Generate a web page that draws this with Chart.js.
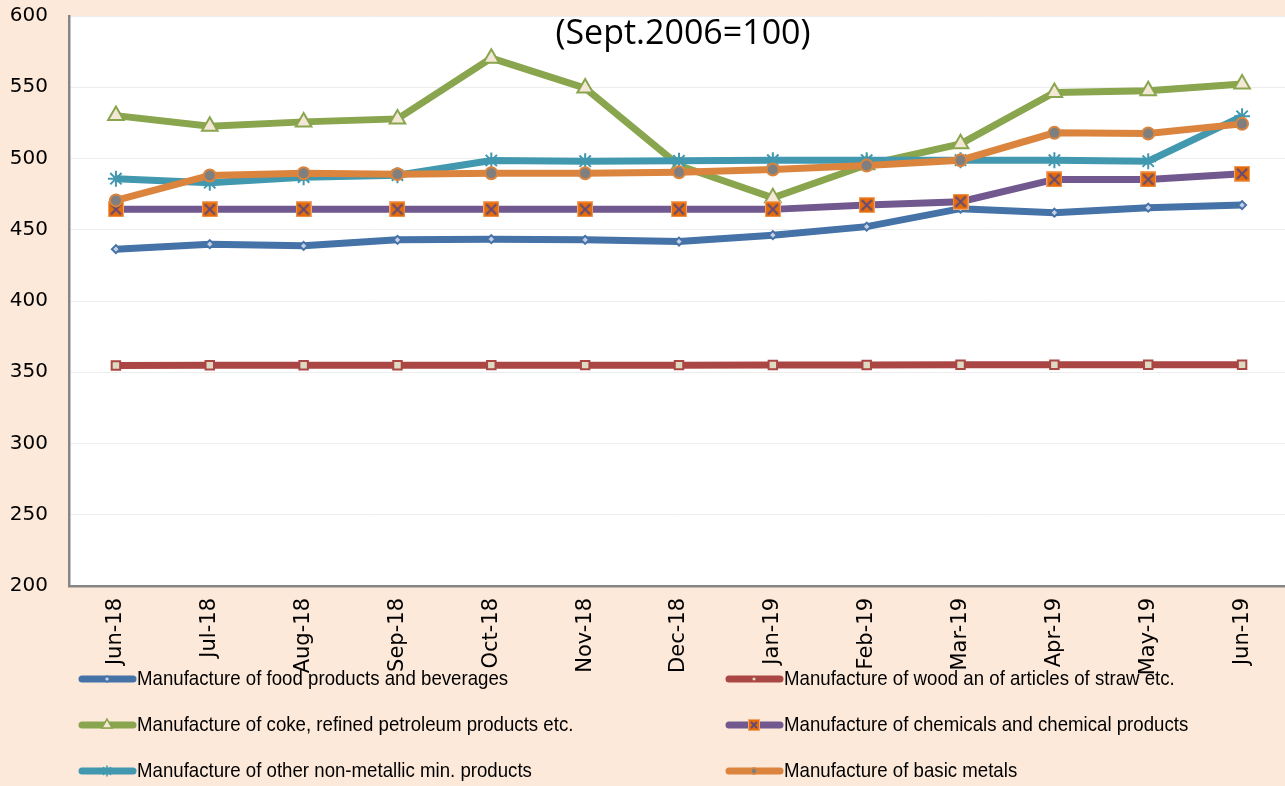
<!DOCTYPE html>
<html>
<head>
<meta charset="utf-8">
<script src="https://cdn.jsdelivr.net/npm/chart.js@4.4.0/dist/chart.umd.min.js"></script>
<style>
  html, body { margin: 0; padding: 0; background: #FDE9D9; overflow: hidden; }
  #wrap { position: relative; width: 1289px; height: 786px; }
</style>
</head>
<body>
<div id="wrap"><canvas id="grafico" width="1289" height="786"></canvas></div>
<script>
const months = ["Jun-18", "Jul-18", "Aug-18", "Sep-18", "Oct-18", "Nov-18", "Dec-18",
  "Jan-19", "Feb-19", "Mar-19", "Apr-19", "May-19", "Jun-19"];

const food = [436.4, 439.9, 438.7, 442.9, 443.4, 442.9, 441.7, 446.2, 452.2, 464.8, 462.0, 465.5, 467.3];
const wood = [354.7, 354.9, 354.9, 354.9, 355.0, 355.0, 355.0, 355.1, 355.1, 355.3, 355.2, 355.2, 355.3];
const coke = [530.1, 522.6, 525.7, 527.8, 570.4, 549.4, 495.1, 472.5, 495.6, 510.3, 546.4, 547.6, 552.2];
const chemicals = [464.3, 464.3, 464.3, 464.3, 464.3, 464.3, 464.3, 464.3, 467.3, 469.7, 485.3, 485.3, 489.3];
const nonMetallic = [485.8, 483.0, 486.9, 488.3, 498.6, 498.1, 498.4, 498.8, 498.8, 498.8, 498.8, 498.1, 529.6];
const basicMetals = [470.6, 488.1, 489.7, 489.0, 489.7, 489.7, 490.4, 492.3, 495.1, 498.8, 518.0, 517.5, 524.3];

const seriesNames = [
  "Manufacture of food products and beverages",
  "Manufacture of wood an of articles of straw etc.",
  "Manufacture of coke, refined petroleum products etc.",
  "Manufacture of chemicals and chemical products",
  "Manufacture of other non-metallic min. products",
  "Manufacture of basic metals"
];
const subtitle = "(Sept.2006=100)";

// orange square with purple X, like the Excel marker
function crossMarker(size) {
  const c = document.createElement("canvas");
  c.width = size; c.height = size;
  const g = c.getContext("2d");
  g.fillStyle = "#E46C0A";
  g.fillRect(0, 0, size, size);
  g.strokeStyle = "#F2A46A";
  g.lineWidth = 1;
  g.strokeRect(0.5, 0.5, size - 1, size - 1);
  g.strokeStyle = "#604A7B";
  g.lineWidth = 2;
  g.beginPath();
  g.moveTo(3, 3); g.lineTo(size - 3, size - 3);
  g.moveTo(size - 3, 3); g.lineTo(3, size - 3);
  g.stroke();
  return c;
}
const xMark = crossMarker(16);
const xMarkSmall = crossMarker(12);

function serie(label, data, color, style, radius, fill, order) {
  return {
    label: label,
    data: data,
    borderColor: color,
    backgroundColor: color,
    borderWidth: 7,
    pointStyle: style,
    pointRadius: radius,
    pointBorderWidth: 2,
    pointBorderColor: color,
    pointBackgroundColor: fill,
    pointHoverRadius: radius,
    tension: 0,
    order: order
  };
}

const datasets = [
  serie(seriesNames[0], food, "#4572A7", "rectRot", 4, "#C6D0E8", 5),
  serie(seriesNames[1], wood, "#AA4643", "rect", 6, "#DDD9C3", 4),
  serie(seriesNames[2], coke, "#89A54E", "triangle", 9, "#F3E7D6", 3),
  serie(seriesNames[3], chemicals, "#71588F", xMark, 8, "#E46C0A", 2),
  serie(seriesNames[4], nonMetallic, "#4198AF", "star", 8, "#4198AF", 1),
  serie(seriesNames[5], basicMetals, "#DB843D", "circle", 6, "#7F7F7F", 0)
];

const plotBg = {
  id: "plotBg",
  beforeDraw(chart) {
    const a = chart.chartArea;
    const ctx = chart.ctx;
    ctx.save();
    ctx.fillStyle = "#FFFFFF";
    ctx.fillRect(a.left, a.top, a.right - a.left, a.bottom - a.top);
    ctx.restore();
  },
  afterDraw(chart) {
    const ctx = chart.ctx;
    const a = chart.chartArea;
    ctx.save();
    ctx.fillStyle = "#000";
    ctx.font = "34px 'Open Sans', Lato, sans-serif";
    ctx.textAlign = "center";
    ctx.textBaseline = "middle";
    ctx.fillText(subtitle, 683, a.top + 18);
    ctx.restore();
  }
};

// two-column legend under the axis labels
const legendCols = [82, 729];
const legendRows = [679, 725, 771];
const bottomLegend = {
  id: "bottomLegend",
  afterDraw(chart) {
    const ctx = chart.ctx;
    chart.data.datasets.forEach((ds, i) => {
      const x = legendCols[i % 2];
      const y = legendRows[Math.floor(i / 2)];
      ctx.save();
      ctx.strokeStyle = ds.borderColor;
      ctx.lineWidth = 7;
      ctx.lineCap = "round";
      ctx.beginPath();
      ctx.moveTo(x, y);
      ctx.lineTo(x + 51, y);
      ctx.stroke();
      ctx.fillStyle = ds.pointBackgroundColor;
      ctx.strokeStyle = ds.pointBorderColor;
      ctx.lineWidth = 1.5;
      const style = ds.pointStyle === xMark ? xMarkSmall : ds.pointStyle;
      Chart.helpers.drawPoint(ctx, { pointStyle: style, radius: Math.max(3, ds.pointRadius - 3), rotation: 0, borderWidth: 1.5 }, x + 25, y);
      ctx.fillStyle = "#000";
      ctx.font = "21px 'Liberation Sans', Arial, sans-serif";
      ctx.textAlign = "left";
      ctx.textBaseline = "middle";
      const w = ctx.measureText(ds.label).width;
      ctx.fillText(ds.label, x + 55, y, w * 0.888);
      ctx.restore();
    });
  }
};

const ctx = document.getElementById("grafico").getContext("2d");
new Chart(ctx, {
  type: "line",
  data: { labels: months, datasets: datasets },
  options: {
    responsive: false,
    animation: false,
    layout: { autoPadding: false, padding: { top: 16, left: 0, right: 0, bottom: 0 } },
    plugins: {
      legend: { display: false },
      title: { display: false },
      tooltip: { enabled: false }
    },
    scales: {
      x: {
        offset: true,
        grid: { display: false, drawTicks: false },
        border: { display: true, color: "#868686", width: 2.5 },
        ticks: {
          color: "#000",
          font: { family: "'DejaVu Sans', sans-serif", size: 21 },
          minRotation: 90,
          maxRotation: 90,
          padding: 12,
          autoSkip: false
        },
        afterFit(s) {
          s.height = 200;
          s.paddingLeft = 0;
          s.paddingRight = 0;
        }
      },
      y: {
        min: 200,
        max: 600,
        grid: { color: "#EDEDED", lineWidth: 1, drawTicks: false },
        border: { display: true, color: "#868686", width: 2.5 },
        ticks: {
          stepSize: 50,
          color: "#000",
          font: { family: "'DejaVu Sans', sans-serif", size: 20 },
          padding: 21
        },
        afterFit(s) {
          s.width = 69;
          s.paddingTop = 0;
          s.paddingBottom = 0;
        }
      }
    }
  },
  plugins: [plotBg, bottomLegend]
});
</script>
</body>
</html>
